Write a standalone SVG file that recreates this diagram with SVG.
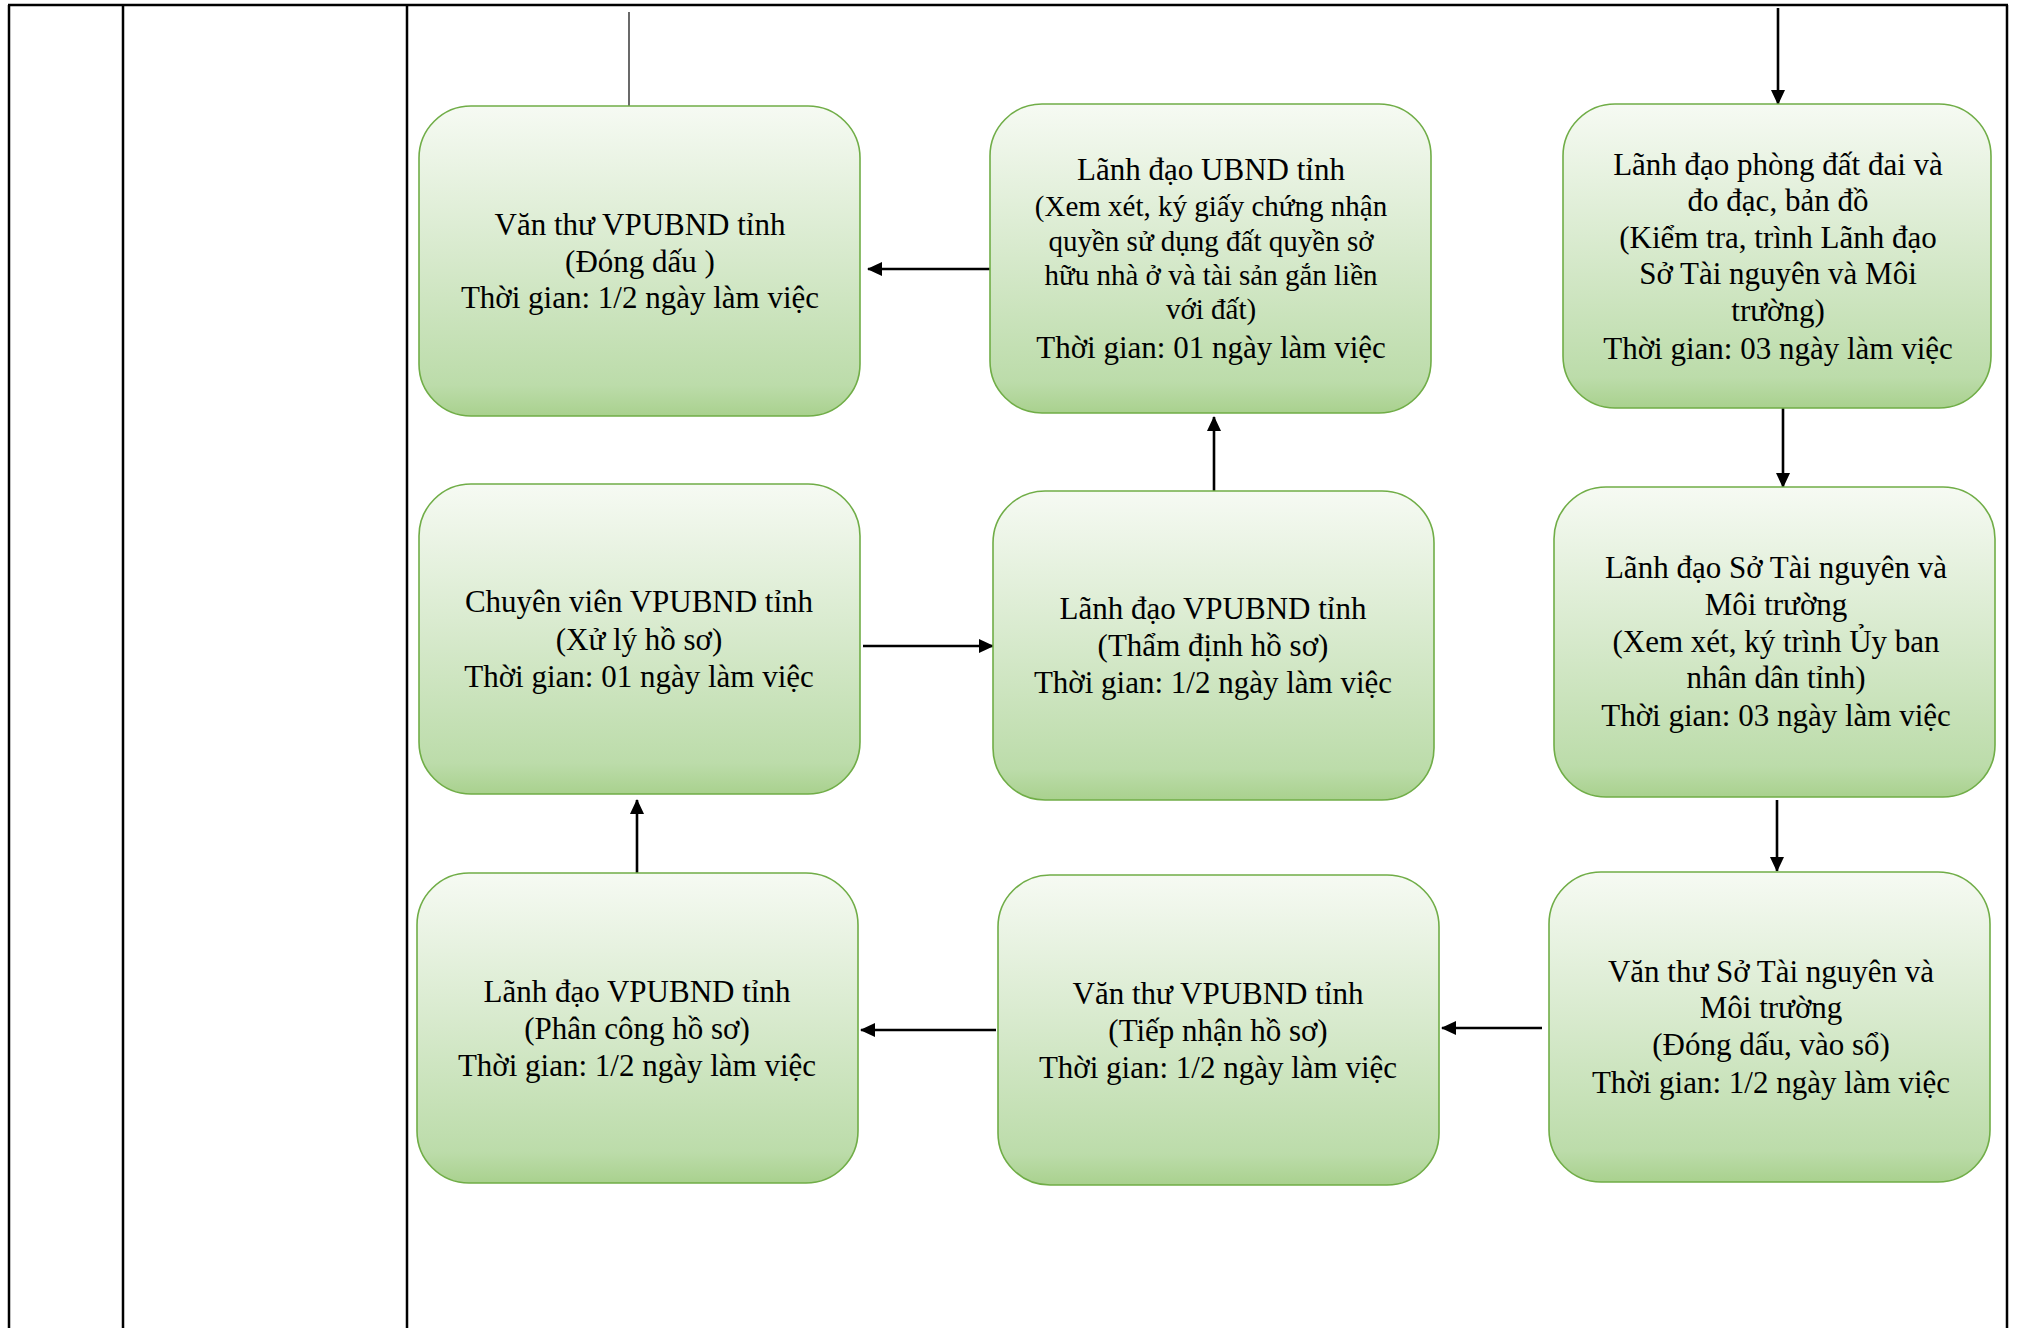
<svg xmlns="http://www.w3.org/2000/svg" width="2018" height="1328" viewBox="0 0 2018 1328">
<defs>
<linearGradient id="g" x1="0" y1="0" x2="0" y2="1">
<stop offset="0" stop-color="#f6faf3"/>
<stop offset="0.5" stop-color="#d6e9cb"/>
<stop offset="0.9" stop-color="#bcdcaa"/>
<stop offset="1" stop-color="#a9d18e"/>
</linearGradient>
<marker id="ah" markerUnits="userSpaceOnUse" markerWidth="16" markerHeight="16" refX="14" refY="7" orient="auto">
<path d="M0,0 L15,7 L0,14 z" fill="#000"/>
</marker>
</defs>
<style>
.box{fill:url(#g);stroke:#70ad47;stroke-width:1.6}
.t{font-family:"Liberation Serif","Times New Roman",serif;font-size:31px;fill:#000;text-anchor:middle}
.s{font-size:29px}
.tbl{stroke:#000;stroke-width:2.5;fill:none}
.c{stroke:#000;stroke-width:2.6;fill:none}
</style>
<g id="table">
<line class="tbl" x1="8" y1="5" x2="2008" y2="5"/>
<line class="tbl" x1="9" y1="5" x2="9" y2="1328"/>
<line class="tbl" x1="123" y1="5" x2="123" y2="1328"/>
<line class="tbl" x1="407" y1="5" x2="407" y2="1328"/>
<line class="tbl" x1="2007" y1="5" x2="2007" y2="1328"/>
</g>
<g id="connectors">
<line x1="629" y1="12" x2="629" y2="108" stroke="#444" stroke-width="1.6"/>
<line class="c" x1="1778" y1="8" x2="1778" y2="104" marker-end="url(#ah)"/>
<line class="c" x1="1783" y1="408" x2="1783" y2="487" marker-end="url(#ah)"/>
<line class="c" x1="1777" y1="800" x2="1777" y2="871" marker-end="url(#ah)"/>
<line class="c" x1="1542" y1="1028" x2="1442" y2="1028" marker-end="url(#ah)"/>
<line class="c" x1="996" y1="1030" x2="861" y2="1030" marker-end="url(#ah)"/>
<line class="c" x1="637" y1="873" x2="637" y2="800" marker-end="url(#ah)"/>
<line class="c" x1="863" y1="646" x2="993" y2="646" marker-end="url(#ah)"/>
<line class="c" x1="1214" y1="491" x2="1214" y2="417" marker-end="url(#ah)"/>
<line class="c" x1="995" y1="269" x2="868" y2="269" marker-end="url(#ah)"/>
</g>
<g id="n1">
<rect class="box" x="419" y="106" width="441" height="310" rx="52"/>
<text class="t" x="640" y="235">Văn thư VPUBND tỉnh</text>
<text class="t" x="640" y="272">(Đóng dấu )</text>
<text class="t" x="640" y="308">Thời gian: 1/2 ngày làm việc</text>
</g>
<g id="n2">
<rect class="box" x="990" y="104" width="441" height="309" rx="52"/>
<text class="t" x="1211" y="180">Lãnh đạo UBND tỉnh</text>
<text class="t s" x="1211" y="216">(Xem xét, ký giấy chứng nhận</text>
<text class="t s" x="1211" y="251">quyền sử dụng đất quyền sở</text>
<text class="t s" x="1211" y="285">hữu nhà ở và tài sản gắn liền</text>
<text class="t s" x="1211" y="319">với đất)</text>
<text class="t" x="1211" y="358">Thời gian: 01 ngày làm việc</text>
</g>
<g id="n3">
<rect class="box" x="1563" y="104" width="428" height="304" rx="52"/>
<text class="t" x="1778" y="175">Lãnh đạo phòng đất đai và</text>
<text class="t" x="1778" y="211">đo đạc, bản đồ</text>
<text class="t" x="1778" y="248">(Kiểm tra, trình Lãnh đạo</text>
<text class="t" x="1778" y="284">Sở Tài nguyên và Môi</text>
<text class="t" x="1778" y="321">trường)</text>
<text class="t" x="1778" y="359">Thời gian: 03 ngày làm việc</text>
</g>
<g id="n4">
<rect class="box" x="1554" y="487" width="441" height="310" rx="52"/>
<text class="t" x="1776" y="578">Lãnh đạo Sở Tài nguyên và</text>
<text class="t" x="1776" y="615">Môi trường</text>
<text class="t" x="1776" y="652">(Xem xét, ký trình Ủy ban</text>
<text class="t" x="1776" y="688">nhân dân tỉnh)</text>
<text class="t" x="1776" y="726">Thời gian: 03 ngày làm việc</text>
</g>
<g id="n5">
<rect class="box" x="1549" y="872" width="441" height="310" rx="52"/>
<text class="t" x="1771" y="982">Văn thư Sở Tài nguyên và</text>
<text class="t" x="1771" y="1018">Môi trường</text>
<text class="t" x="1771" y="1055">(Đóng dấu, vào sổ)</text>
<text class="t" x="1771" y="1093">Thời gian: 1/2 ngày làm việc</text>
</g>
<g id="n6">
<rect class="box" x="998" y="875" width="441" height="310" rx="52"/>
<text class="t" x="1218" y="1004">Văn thư VPUBND tỉnh</text>
<text class="t" x="1218" y="1041">(Tiếp nhận hồ sơ)</text>
<text class="t" x="1218" y="1078">Thời gian: 1/2 ngày làm việc</text>
</g>
<g id="n7">
<rect class="box" x="417" y="873" width="441" height="310" rx="52"/>
<text class="t" x="637" y="1002">Lãnh đạo VPUBND tỉnh</text>
<text class="t" x="637" y="1039">(Phân công hồ sơ)</text>
<text class="t" x="637" y="1076">Thời gian: 1/2 ngày làm việc</text>
</g>
<g id="n8">
<rect class="box" x="419" y="484" width="441" height="310" rx="52"/>
<text class="t" x="639" y="612">Chuyên viên VPUBND tỉnh</text>
<text class="t" x="639" y="650">(Xử lý hồ sơ)</text>
<text class="t" x="639" y="687">Thời gian: 01 ngày làm việc</text>
</g>
<g id="n9">
<rect class="box" x="993" y="491" width="441" height="309" rx="52"/>
<text class="t" x="1213" y="619">Lãnh đạo VPUBND tỉnh</text>
<text class="t" x="1213" y="656">(Thẩm định hồ sơ)</text>
<text class="t" x="1213" y="693">Thời gian: 1/2 ngày làm việc</text>
</g>
</svg>
